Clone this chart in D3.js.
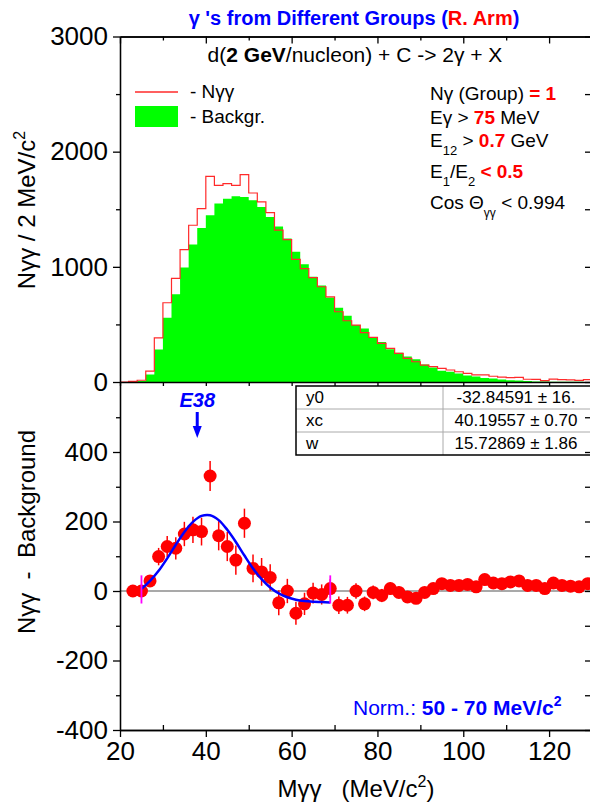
<!DOCTYPE html>
<html>
<head>
<meta charset="utf-8">
<script src="https://cdn.jsdelivr.net/npm/d3@7"></script>
<style>
body { margin: 0; background: #fff; }
text { font-family: "Liberation Sans", Arial, sans-serif; }
</style>
</head>
<body>
<div id="wrapper"></div>
<script>
// histogram bins (lower edge, MeV/c2), 2 MeV wide
var massLow = [22,24,26,28,30,32,34,36,38,40,42,44,46,48,50,52,54,56,58,60,62,64,66,68,70,72,74,76,78,80,
               82,84,86,88,90,92,94,96,98,100,102,104,106,108,110,112,114,116,118,120,122,124,126,128];
var nGG    = [5,15,95,384,688,899,1150,1361,1506,1786,1708,1722,1708,1800,1641,1564,1471,1318,1237,1064,
              985,907,827,740,610,532,494,428,387,335,292,249,205,176,147,133,118,104,89,75,
              62,62,50,43,38,40,24,22,12,25,20,18,14,20];
var backgr = [0,8,66,283,558,763,994,1193,1338,1448,1549,1592,1613,1607,1578,1520,1432,1350,1246,1130,
              1022,913,837,733,644,575,494,465,391,348,285,253,222,197,151,126,97,88,73,56,
              48,35,30,22,15,12,8,5,5,3,3,2,2,1];

// Ngg - background (bin centres)
var diffMass = [23,25,27,29,31,33,35,37,39,41,43,45,47,49,51,53,55,57,59,61,63,65,67,69,71,73,75,77,79,81,
                83,85,87,89,91,93,95,97,99,101,103,105,107,109,111,113,115,117,119,121,123,125,127,129];
var diffVal  = [0,0,29,99,128,123,164,176,171,331,159,128,89,195,65,55,39,-34,0,-64,-37,-6,-10,7,-41,-41,0,-37,-4,-13,
                7,-4,-17,-21,-4,7,21,16,16,19,12,33,23,21,26,29,16,16,7,23,16,14,12,21];
var diffErr  = [5,8,15,25,30,32,35,38,40,43,42,42,42,42,40,40,38,36,35,33,32,30,29,27,25,24,22,21,20,19,
                18,17,16,15,14,14,13,12,12,11,11,10,10,10,9,9,9,8,8,8,7,7,7,7];

// gauss fit curve
var fitMass = [25,27,29,31,33,35,37,39,41,43,45,47,49,51,53,55,57,59,61,63,65,67,69];
var fitVal  = [6,29,58,94,133,170,199,216,218,204,176,141,102,65,34,10,-7,-18,-25,-29,-31,-32,-33];
var fitRange = [25, 69];

var parNames = ["y0", "xc", "w"];
var parVals  = ["-32.84591 \u00b1 16.", "40.19557 \u00b1 0.70", "15.72869 \u00b1 1.86"];

var xMajor = [20,40,60,80,100,120];
var xMinor = [30,50,70,90,110,130];
var yTopMajor = [0,1000,2000,3000];
var yTopMinor = [500,1500,2500];
var yBotMajor = [-400,-200,0,200,400];
var yBotMinor = [-300,-100,100,300,500];

var w = 590, h = 806;
var red = "#ff0000", green = "#00ff00", blue = "#0000ff";

var svg = d3.select("#wrapper").append("svg")
            .attr("width", w).attr("height", h);

var x = d3.scaleLinear().domain([20,130]).range([120,592]);
var yTop = d3.scaleLinear().domain([0,3000]).range([382,36.5]);
var yBot = d3.scaleLinear().domain([-400,600]).range([730,382.5]);

function styleAxis(g, fs){
	g.select(".domain").attr("stroke","#000").attr("stroke-width",1.3);
	g.selectAll(".tick line").attr("stroke","#000").attr("stroke-width",1.3);
	g.selectAll(".tick text").attr("fill","#000").style("font-size",fs+"px")
	 .style("font-family","'Liberation Sans', Arial, sans-serif");
}

// ---------- upper panel : histograms ----------
var up = svg.append("g");

var bgPts = [];
massLow.forEach(function(d,i){ bgPts.push([d,backgr[i]]); });
bgPts.push([130,backgr[backgr.length-1]]);

up.append("path")
  .attr("d", d3.area().curve(d3.curveStepAfter)
        .x(function(d){return x(d[0]);})
        .y0(yTop(0))
        .y1(function(d){return yTop(d[1]);})(bgPts))
  .attr("fill",green);

var redPts = [[20,0]];
massLow.forEach(function(d,i){ redPts.push([d,nGG[i]]); });
redPts.push([130,nGG[nGG.length-1]]);

up.append("path")
  .attr("d", d3.line().curve(d3.curveStepAfter)
        .x(function(d){return x(d[0]);})
        .y(function(d){return yTop(d[1]);})(redPts))
  .attr("fill","none").attr("stroke","#ff2a2a").attr("stroke-width",1.2);

// ---------- lower panel ----------
var lo = svg.append("g");

lo.append("line")
  .attr("x1",x(20)).attr("x2",x(130))
  .attr("y1",yBot(0)).attr("y2",yBot(0))
  .attr("stroke","#555").attr("stroke-width",1.2);

lo.selectAll("line.err")
  .data(diffMass)
  .enter().append("line")
  .attr("class","err")
  .attr("x1",function(d){return x(d);}).attr("x2",function(d){return x(d);})
  .attr("y1",function(d,i){return yBot(diffVal[i]+diffErr[i]);})
  .attr("y2",function(d,i){return yBot(diffVal[i]-diffErr[i]);})
  .attr("stroke",red).attr("stroke-width",1.5);

lo.selectAll("circle.pt")
  .data(diffMass)
  .enter().append("circle")
  .attr("class","pt")
  .attr("cx",function(d){return x(d);})
  .attr("cy",function(d,i){return yBot(diffVal[i]);})
  .attr("r",6.5)
  .attr("fill",red);

lo.append("path")
  .attr("d", d3.line().curve(d3.curveCatmullRom)
        .x(function(d){return x(d);})
        .y(function(d,i){return yBot(fitVal[i]);})(fitMass))
  .attr("fill","none").attr("stroke",blue).attr("stroke-width",2.5);

// fit range markers
lo.selectAll("line.rng")
  .data(fitRange)
  .enter().append("line")
  .attr("class","rng")
  .attr("x1",function(d){return x(d);}).attr("x2",function(d){return x(d);})
  .attr("y1",function(d){return yBot(45);})
  .attr("y2",function(d){return yBot(-36);})
  .attr("stroke","#ff00ff").attr("stroke-width",1.8);

// ---------- axes ----------
var axL1 = svg.append("g").attr("transform","translate(120,0)")
  .call(d3.axisLeft(yTop).tickValues(yTopMajor).tickSize(7).tickSizeOuter(0).tickPadding(5)
        .tickFormat(function(d){return String(d);}));
styleAxis(axL1,26);
var axL1m = svg.append("g").attr("transform","translate(120,0)")
  .call(d3.axisLeft(yTop).tickValues(yTopMinor).tickSize(4).tickSizeOuter(0).tickFormat(""));
styleAxis(axL1m,26);

var axL2 = svg.append("g").attr("transform","translate(120,0)")
  .call(d3.axisLeft(yBot).tickValues(yBotMajor).tickSize(7).tickSizeOuter(0).tickPadding(5)
        .tickFormat(function(d){return String(d);}));
styleAxis(axL2,26);
var axL2m = svg.append("g").attr("transform","translate(120,0)")
  .call(d3.axisLeft(yBot).tickValues(yBotMinor).tickSize(4).tickSizeOuter(0).tickFormat(""));
styleAxis(axL2m,26);

// right side, ticks inside
var axR1 = svg.append("g").attr("transform","translate(592,0)")
  .call(d3.axisRight(yTop).tickValues(yTopMajor.concat(yTopMinor)).tickSize(-7).tickSizeOuter(0).tickFormat(""));
styleAxis(axR1,26);
var axR2 = svg.append("g").attr("transform","translate(592,0)")
  .call(d3.axisRight(yBot).tickValues(yBotMajor.concat(yBotMinor)).tickSize(-7).tickSizeOuter(0).tickFormat(""));
styleAxis(axR2,26);

// top frame
var axT = svg.append("g").attr("transform","translate(0,36.5)")
  .call(d3.axisTop(x).tickValues(xMajor).tickSize(-7).tickSizeOuter(0).tickFormat(""));
styleAxis(axT,26);
var axTm = svg.append("g").attr("transform","translate(0,36.5)")
  .call(d3.axisTop(x).tickValues(xMinor).tickSize(-4).tickSizeOuter(0).tickFormat(""));
styleAxis(axTm,26);

// middle axis between the panels
var axM = svg.append("g").attr("transform","translate(0,382)")
  .call(d3.axisBottom(x).tickValues(xMajor.concat(xMinor)).tickSize(4).tickSizeOuter(0).tickFormat(""));
styleAxis(axM,26);

// bottom axis
var axB = svg.append("g").attr("transform","translate(0,730)")
  .call(d3.axisBottom(x).tickValues(xMajor).tickSize(7).tickSizeOuter(0).tickPadding(5)
        .tickFormat(function(d){return String(d);}));
styleAxis(axB,26);
var axBm = svg.append("g").attr("transform","translate(0,730)")
  .call(d3.axisBottom(x).tickValues(xMinor).tickSize(-5).tickSizeOuter(0).tickFormat(""));
styleAxis(axBm,26);

// ---------- fit table ----------
var tb = svg.append("g");
var tRows = [386,409,432,455];
tb.selectAll("line.row")
  .data(tRows.slice(1,3))
  .enter().append("line")
  .attr("x1",296).attr("x2",592)
  .attr("y1",function(d){return d;}).attr("y2",function(d){return d;})
  .attr("stroke","#aaa").attr("stroke-width",1);
tb.append("line").attr("x1",443).attr("x2",443).attr("y1",386).attr("y2",455)
  .attr("stroke","#aaa").attr("stroke-width",1);
tb.append("rect").attr("x",296).attr("y",386).attr("width",300).attr("height",69)
  .attr("fill","none").attr("stroke","#000").attr("stroke-width",1.5);
tb.selectAll("text.pn")
  .data(parNames)
  .enter().append("text")
  .attr("x",306).attr("y",function(d,i){return tRows[i]+17;})
  .style("font-size","17px").text(function(d){return d;});
tb.selectAll("text.pv")
  .data(parVals)
  .enter().append("text")
  .attr("x",516).attr("y",function(d,i){return tRows[i]+17;})
  .attr("text-anchor","middle")
  .style("font-size","17px").text(function(d){return d;});

// ---------- texts ----------
var t1 = svg.append("text").attr("x",354).attr("y",25).attr("text-anchor","middle")
  .style("font-size","20px").style("font-weight","bold");
t1.append("tspan").attr("fill",blue).text("\u03b3 's from Different Groups (");
t1.append("tspan").attr("fill",red).text("R. Arm");
t1.append("tspan").attr("fill",blue).text(")");

var t2 = svg.append("text").attr("x",355).attr("y",62).attr("text-anchor","middle")
  .style("font-size","21px");
t2.append("tspan").text("d(");
t2.append("tspan").style("font-weight","bold").text("2 GeV");
t2.append("tspan").text("/nucleon) + C -> 2\u03b3 + X");

// legend
svg.append("line").attr("x1",135).attr("x2",178).attr("y1",92).attr("y2",92)
  .attr("stroke","#ff2a2a").attr("stroke-width",1.5);
svg.append("text").attr("x",190).attr("y",98).style("font-size","19px").text("- N\u03b3\u03b3");
svg.append("rect").attr("x",135).attr("y",106).attr("width",43).attr("height",21).attr("fill",green);
svg.append("text").attr("x",190).attr("y",123).style("font-size","19px").text("- Backgr.");

// cuts
var cx0 = 430;
var c1 = svg.append("text").attr("x",cx0).attr("y",100).style("font-size","19px");
c1.append("tspan").text("N\u03b3 (Group) ");
c1.append("tspan").attr("fill",red).style("font-weight","bold").text("= 1");

var c2 = svg.append("text").attr("x",cx0).attr("y",124).style("font-size","19px");
c2.append("tspan").text("E\u03b3 > ");
c2.append("tspan").attr("fill",red).style("font-weight","bold").text("75");
c2.append("tspan").text(" MeV");

var c3 = svg.append("text").attr("x",cx0).attr("y",147).style("font-size","19px");
c3.append("tspan").text("E");
c3.append("tspan").attr("dy",8).style("font-size","13px").text("12");
c3.append("tspan").attr("dy",-8).text(" > ");
c3.append("tspan").attr("fill",red).style("font-weight","bold").text("0.7");
c3.append("tspan").text(" GeV");

var c4 = svg.append("text").attr("x",cx0).attr("y",178).style("font-size","19px");
c4.append("tspan").text("E");
c4.append("tspan").attr("dy",8).style("font-size","13px").text("1");
c4.append("tspan").attr("dy",-8).text("/E");
c4.append("tspan").attr("dy",8).style("font-size","13px").text("2");
c4.append("tspan").attr("dy",-8).attr("fill",red).style("font-weight","bold").text(" < 0.5");

var c5 = svg.append("text").attr("x",cx0).attr("y",209).style("font-size","19px");
c5.append("tspan").text("Cos \u0398");
c5.append("tspan").attr("dy",8).style("font-size","12px").text("\u03b3\u03b3");
c5.append("tspan").attr("dy",-8).text(" < 0.994");

// E38 arrow
svg.append("text").attr("x",x(38)).attr("y",407).attr("text-anchor","middle")
  .attr("fill",blue).style("font-size","20px").style("font-weight","bold").style("font-style","italic")
  .text("E38");
svg.append("line").attr("x1",x(38)).attr("x2",x(38)).attr("y1",412).attr("y2",428)
  .attr("stroke",blue).attr("stroke-width",3);
svg.append("path")
  .attr("d","M"+(x(38)-4.5)+",426 L"+(x(38)+4.5)+",426 L"+x(38)+",438 Z")
  .attr("fill",blue);

// norm
var nt = svg.append("text").attr("x",353).attr("y",715).attr("fill",blue).style("font-size","21px");
nt.append("tspan").text("Norm.: ");
nt.append("tspan").style("font-weight","bold").text("50 - 70 MeV/c");
nt.append("tspan").attr("dy",-9).style("font-size","14px").style("font-weight","bold").text("2");

// axis titles
var yt1 = svg.append("text").attr("transform","translate(35,210) rotate(-90)")
  .attr("text-anchor","middle").style("font-size","24px");
yt1.append("tspan").text("N\u03b3\u03b3 / 2 MeV/c");
yt1.append("tspan").attr("dy",-10).style("font-size","16px").text("2");

svg.append("text").attr("transform","translate(35,532) rotate(-90)")
  .attr("text-anchor","middle").style("font-size","24px")
  .text("N\u03b3\u03b3\u00a0 -\u00a0 Background");

var xt = svg.append("text").attr("x",356).attr("y",797).attr("text-anchor","middle")
  .style("font-size","24px");
xt.append("tspan").text("M\u03b3\u03b3\u00a0\u00a0 (MeV/c");
xt.append("tspan").attr("dy",-10).style("font-size","16px").text("2");
xt.append("tspan").attr("dy",10).text(")");
</script>
</body>
</html>
